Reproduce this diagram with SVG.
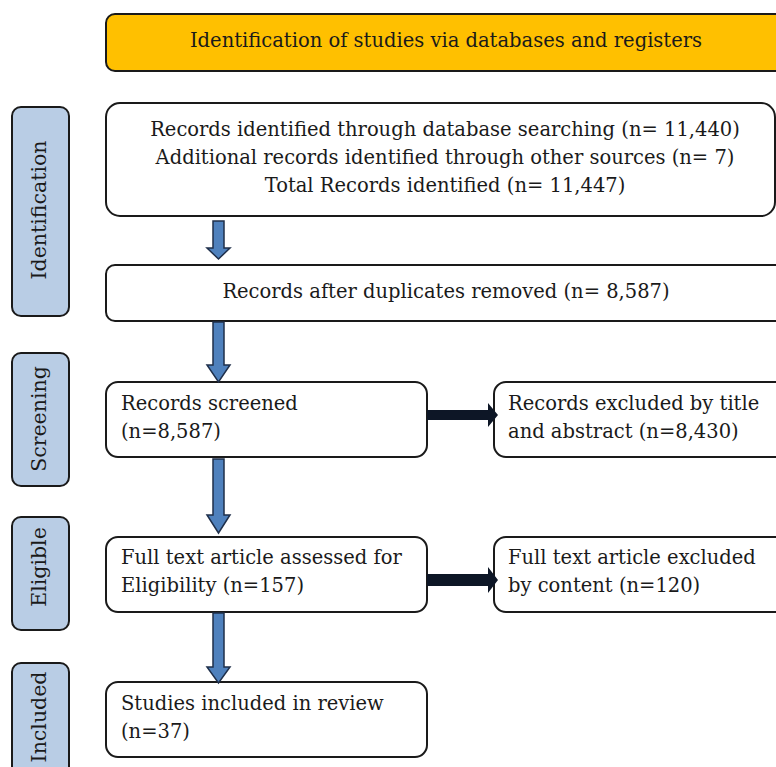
<svg xmlns="http://www.w3.org/2000/svg" width="776" height="767" viewBox="0 0 776 767">
<defs>
<style>
text{font-family:"DejaVu Serif","Liberation Serif",serif;fill:#1a1a1a;}
.t{font-size:19.5px;}
.h{font-size:19.5px;}
.s{font-size:20.5px;}
.box{fill:#ffffff;stroke:#1a1a1a;stroke-width:2;}
.side{fill:#b9cde5;stroke:#1a1a1a;stroke-width:2;}
.head{fill:#ffc000;stroke:#1a1a1a;stroke-width:2;}
.down{fill:#4f81bd;stroke:#1f2f4a;stroke-width:1.5;}
.right{fill:#0d1626;stroke:none;}
</style>
</defs>
<g id="header"><rect class="head" x="106" y="14" width="690" height="57" rx="9"/><text class="h" x="446" y="47" text-anchor="middle">Identification of studies via databases and registers</text></g>
<g id="side-identification"><rect class="side" x="12" y="107" width="57" height="209" rx="9"/><text class="s" transform="translate(46,210) rotate(-90)" text-anchor="middle">Identification</text></g>
<g id="side-screening"><rect class="side" x="12" y="353" width="57" height="133" rx="9"/><text class="s" transform="translate(46,419) rotate(-90)" text-anchor="middle">Screening</text></g>
<g id="side-eligible"><rect class="side" x="12" y="517" width="57" height="113" rx="9"/><text class="s" transform="translate(46,567) rotate(-90)" text-anchor="middle">Eligible</text></g>
<g id="side-included"><rect class="side" x="12" y="663" width="57" height="130" rx="9"/><text class="s" transform="translate(46,717) rotate(-90)" text-anchor="middle">Included</text></g>
<g id="identified"><rect class="box" x="106" y="103" width="669" height="113" rx="14"/>
<text class="t" x="445" y="136" text-anchor="middle">Records identified through database searching (n= 11,440)</text>
<text class="t" x="445" y="164" text-anchor="middle">Additional records identified through other sources (n= 7)</text>
<text class="t" x="445" y="192" text-anchor="middle">Total Records identified (n= 11,447)</text></g>
<g id="duplicates"><rect class="box" x="106" y="265" width="690" height="56" rx="9"/><text class="t" x="446" y="298" text-anchor="middle">Records after duplicates removed (n= 8,587)</text></g>
<g id="screened"><rect class="box" x="106" y="382" width="321" height="75" rx="12"/><text class="t" x="121" y="410">Records screened</text><text class="t" x="121" y="438">(n=8,587)</text></g>
<g id="excluded-title"><rect class="box" x="494" y="382" width="302" height="75" rx="12"/><text class="t" x="508" y="410">Records excluded by title</text><text class="t" x="508" y="438">and abstract (n=8,430)</text></g>
<g id="eligible"><rect class="box" x="106" y="537" width="321" height="75" rx="12"/><text class="t" x="121" y="564">Full text article assessed for</text><text class="t" x="121" y="592">Eligibility (n=157)</text></g>
<g id="excluded-content"><rect class="box" x="494" y="537" width="302" height="75" rx="12"/><text class="t" x="508" y="564">Full text article excluded</text><text class="t" x="508" y="592">by content (n=120)</text></g>
<g id="included"><rect class="box" x="106" y="682" width="321" height="75" rx="12"/><text class="t" x="121" y="710">Studies included in review</text><text class="t" x="121" y="738">(n=37)</text></g>
<g id="connectors">
<path class="down" d="M213,221 H224 V248 H230 L218.5,259 L207,248 H213 Z"/>
<path class="down" d="M213,322 H224 V365 H230 L218.5,382 L207,365 H213 Z"/>
<path class="down" d="M213,459 H224 V515 H230 L218.5,533 L207,515 H213 Z"/>
<path class="down" d="M213,613 H224 V667 H230 L218.5,683 L207,667 H213 Z"/>
<path class="right" d="M427,410 H488 V403 L498,415 L488,427 V420 H427 Z"/>
<path class="right" d="M427,574 H488 V567 L498,580 L488,593 V586 H427 Z"/>
</g>
</svg>
